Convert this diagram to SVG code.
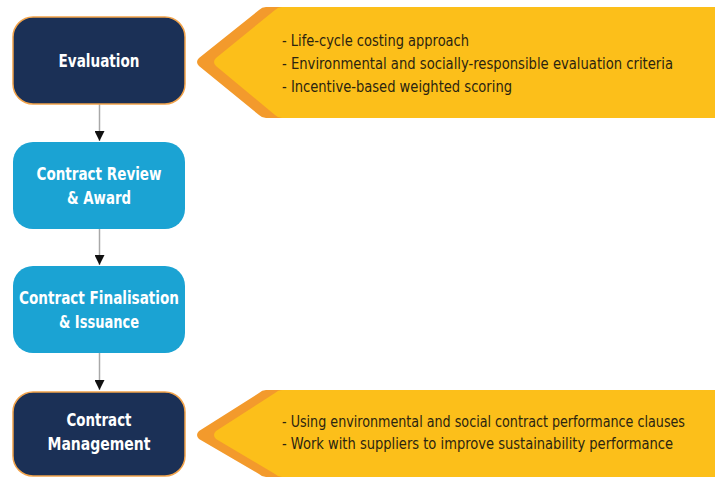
<svg xmlns="http://www.w3.org/2000/svg" width="715" height="478" viewBox="0 0 715 478">
<defs>
<style>
.dark{fill:#1b3056;stroke:#f2a34a;stroke-width:1.5}
.light{fill:#1ba3d3}
.nt{font-family:"DejaVu Sans Condensed","Liberation Sans",sans-serif;font-weight:bold;font-size:18.5px;fill:#ffffff;text-anchor:middle}
.bt{font-family:"DejaVu Sans Condensed","Liberation Sans",sans-serif;font-size:16px;fill:#2b2410}
.orn{fill:#f39a2c}
.yel{fill:#fcbf1a}
.ln{stroke:#a8a8a8;stroke-width:1.5;fill:none}
</style>
<marker id="ah" viewBox="0 0 10 10" refX="10" refY="5" markerWidth="10" markerHeight="10" markerUnits="userSpaceOnUse" orient="auto">
<path d="M0,0 L10,5 L0,10 Z" fill="#111"/>
</marker>
</defs>
<rect width="715" height="478" fill="#ffffff"/>
<g id="connectors">
<line class="ln" x1="99.5" y1="104" x2="99.5" y2="141" marker-end="url(#ah)"/>
<line class="ln" x1="99.5" y1="229" x2="99.5" y2="265" marker-end="url(#ah)"/>
<line class="ln" x1="99.5" y1="353" x2="99.5" y2="390" marker-end="url(#ah)"/>
</g>
<g id="banner1">
<path class="orn" d="M266,7 L715,7 L715,118 L266,118 Q262,118 259,115 L199,66 Q195,62 199,58 L259,10 Q262,7 266,7 Z"/>
<path class="yel" d="M282,7 L715,7 L715,118 L282,118 Q278,118 275,115 L216,66 Q212,62 216,58 L275,10 Q278,7 282,7 Z"/>
<text class="bt" x="282" y="46" textLength="187" lengthAdjust="spacingAndGlyphs">- Life-cycle costing approach</text>
<text class="bt" x="282" y="69" textLength="391" lengthAdjust="spacingAndGlyphs">- Environmental and socially-responsible evaluation criteria</text>
<text class="bt" x="282" y="92" textLength="230" lengthAdjust="spacingAndGlyphs">- Incentive-based weighted scoring</text>
</g>
<g id="banner2">
<path class="orn" d="M266,390 L715,390 L715,477 L266,477 Q262,477 259,474 L199,439 Q195,435 199,431 L259,393 Q262,390 266,390 Z"/>
<path class="yel" d="M282,390 L715,390 L715,477 L282,477 Q278,477 275,474 L216,439 Q212,435 216,431 L275,393 Q278,390 282,390 Z"/>
<text class="bt" x="282" y="427" font-size="15" style="font-size:15px" textLength="403" lengthAdjust="spacingAndGlyphs">- Using environmental and social contract performance clauses</text>
<text class="bt" x="282" y="449" textLength="391" lengthAdjust="spacingAndGlyphs">- Work with suppliers to improve sustainability performance</text>
</g>
<g id="evaluation">
<rect class="dark" x="13" y="17" width="172" height="87" rx="20"/>
<text class="nt" x="99" y="67" textLength="81" lengthAdjust="spacingAndGlyphs">Evaluation</text>
</g>
<g id="review">
<rect class="light" x="13" y="142" width="172" height="87" rx="20"/>
<text class="nt" x="99" y="180" textLength="125" lengthAdjust="spacingAndGlyphs">Contract Review</text>
<text class="nt" x="99" y="204" textLength="64" lengthAdjust="spacingAndGlyphs">&amp; Award</text>
</g>
<g id="finalisation">
<rect class="light" x="13" y="266" width="172" height="87" rx="20"/>
<text class="nt" x="99" y="304" textLength="160" lengthAdjust="spacingAndGlyphs">Contract Finalisation</text>
<text class="nt" x="99" y="328" textLength="80" lengthAdjust="spacingAndGlyphs">&amp; Issuance</text>
</g>
<g id="management">
<rect class="dark" x="13" y="392" width="172" height="84" rx="20"/>
<text class="nt" x="99" y="426" textLength="65" lengthAdjust="spacingAndGlyphs">Contract</text>
<text class="nt" x="99" y="450" textLength="103" lengthAdjust="spacingAndGlyphs">Management</text>
</g>
</svg>
